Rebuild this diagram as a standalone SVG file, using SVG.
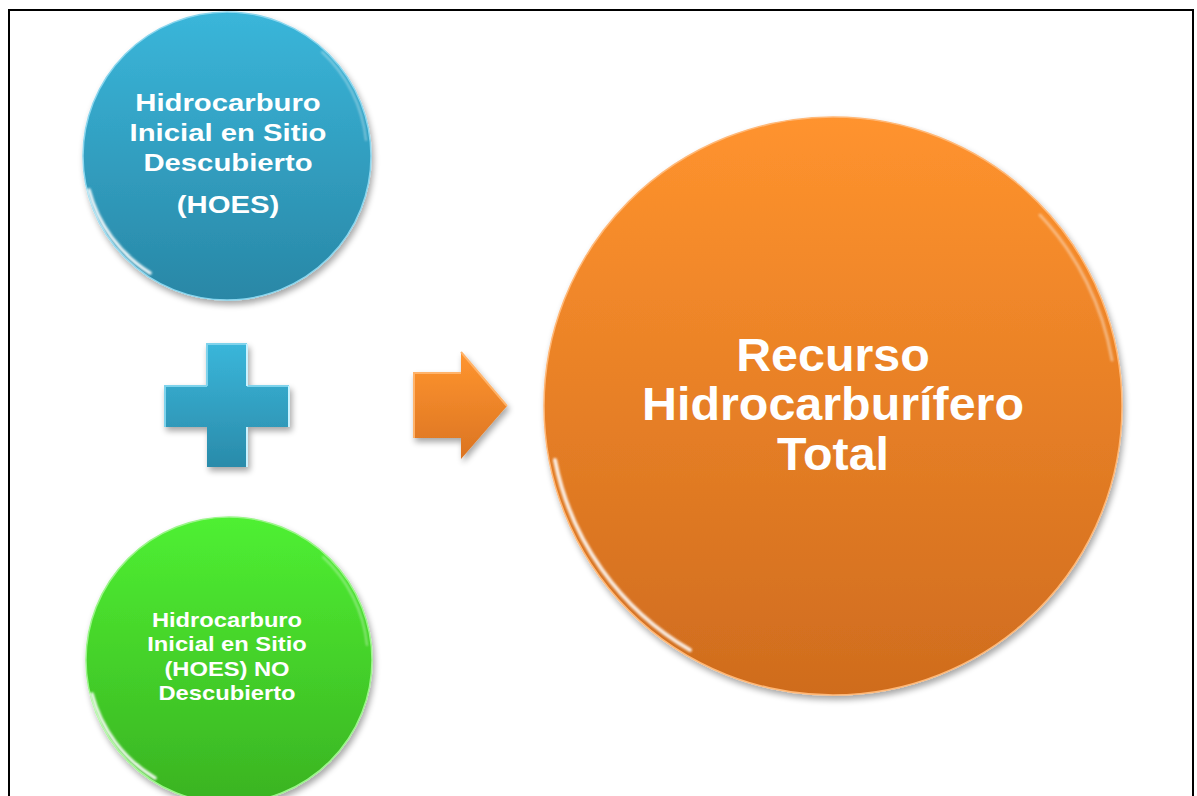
<svg xmlns="http://www.w3.org/2000/svg" width="1197" height="796" viewBox="0 0 1197 796">
  <style>
    .t { font-family: "Liberation Sans", Arial, sans-serif; font-weight: bold; fill: #ffffff; text-anchor: middle; }
    .hl { fill: none; stroke: #ffffff; stroke-linecap: round; }
  </style>
  <defs>
    <linearGradient id="gBlue" x1="0" y1="0" x2="0" y2="1">
      <stop offset="0" stop-color="#3AB6DA"/>
      <stop offset="1" stop-color="#2987A6"/>
    </linearGradient>
    <linearGradient id="gGreen" x1="0" y1="0" x2="0" y2="1">
      <stop offset="0" stop-color="#4FF032"/>
      <stop offset="1" stop-color="#3AB322"/>
    </linearGradient>
    <linearGradient id="gOrange" x1="0" y1="0" x2="0" y2="1">
      <stop offset="0" stop-color="#FF932E"/>
      <stop offset="1" stop-color="#CF6C1E"/>
    </linearGradient>
    <linearGradient id="gPlus" x1="0" y1="0" x2="0" y2="1">
      <stop offset="0" stop-color="#3AB6DA"/>
      <stop offset="1" stop-color="#2A8BAA"/>
    </linearGradient>
    <linearGradient id="gArrow" x1="0" y1="0" x2="0" y2="1">
      <stop offset="0" stop-color="#FF952F"/>
      <stop offset="1" stop-color="#DB7422"/>
    </linearGradient>
    <filter id="shadow" x="-10%" y="-10%" width="125%" height="125%">
      <feGaussianBlur in="SourceAlpha" stdDeviation="3"/>
      <feOffset dx="2" dy="4" result="b"/>
      <feComponentTransfer><feFuncA type="linear" slope="0.35"/></feComponentTransfer>
      <feMerge><feMergeNode/><feMergeNode in="SourceGraphic"/></feMerge>
    </filter>
    <filter id="soft" x="-20%" y="-20%" width="140%" height="140%">
      <feGaussianBlur stdDeviation="0.8"/>
    </filter>
  </defs>

  <rect x="9" y="10" width="1184" height="800" fill="#ffffff" stroke="#000000" stroke-width="2"/>

  <g id="node-hoes">
    <circle cx="227" cy="156" r="144" fill="url(#gBlue)" stroke="#8AD6EE" stroke-width="1.5" filter="url(#shadow)"/>
    <path class="hl" d="M 89 190 A 140 140 0 0 0 150 273" stroke-width="3.5" opacity="0.9" filter="url(#soft)"/>
    <path class="hl" d="M 322 52 A 140 140 0 0 1 366 140" stroke-width="2" opacity="0.4" filter="url(#soft)"/>
    <text class="t" font-size="24" transform="translate(228 0) scale(1.22 1) translate(-228 0)"><tspan x="228" y="111">Hidrocarburo</tspan><tspan x="228" y="141">Inicial en Sitio</tspan><tspan x="228" y="171">Descubierto</tspan><tspan x="228" y="213">(HOES)</tspan></text>
  </g>

  <g id="node-hoes-no">
    <circle cx="229" cy="660" r="143" fill="url(#gGreen)" stroke="#9BF58A" stroke-width="1.5" filter="url(#shadow)"/>
    <path class="hl" d="M 92 694 A 139 139 0 0 0 155 778" stroke-width="3.5" opacity="0.9" filter="url(#soft)"/>
    <path class="hl" d="M 323 557 A 139 139 0 0 1 367 645" stroke-width="2" opacity="0.4" filter="url(#soft)"/>
    <text class="t" font-size="21" transform="translate(227 0) scale(1.13 1) translate(-227 0)"><tspan x="227" y="627">Hidrocarburo</tspan><tspan x="227" y="651">Inicial en Sitio</tspan><tspan x="227" y="676">(HOES) NO</tspan><tspan x="227" y="700">Descubierto</tspan></text>
  </g>

  <g id="node-total">
    <circle cx="833" cy="406" r="289" fill="url(#gOrange)" stroke="#FFB877" stroke-width="1.5" filter="url(#shadow)"/>
    <path class="hl" d="M 555 460 A 282 282 0 0 0 690 650" stroke-width="4" opacity="0.85" filter="url(#soft)"/>
    <path class="hl" d="M 1040 215 A 282 282 0 0 1 1112 360" stroke-width="3" opacity="0.4" filter="url(#soft)"/>
    <text class="t" font-size="47" transform="translate(833 0) scale(1.03 1) translate(-833 0)"><tspan x="833" y="371">Recurso</tspan><tspan x="833" y="420">Hidrocarburífero</tspan><tspan x="833" y="470">Total</tspan></text>
  </g>

  <g id="connectors">
    <g id="plus" filter="url(#shadow)">
      <polygon points="207,344 247,344 247,386 289,386 289,427 247,427 247,467 207,467 207,427 165,427 165,386 207,386" fill="url(#gPlus)"/>
      <polyline points="207,386 207,344 247,344" fill="none" stroke="#7FD3EC" stroke-width="2"/>
      <polyline points="165,427 165,386 207,386" fill="none" stroke="#7FD3EC" stroke-width="2"/>
      <polyline points="247,386 289,386" fill="none" stroke="#7FD3EC" stroke-width="2"/>
      <polyline points="289,386 289,427" fill="none" stroke="#C9F2FF" stroke-width="2"/>
      <polyline points="247,344 247,386" fill="none" stroke="#C9F2FF" stroke-width="2"/>
      <polyline points="247,427 247,467" fill="none" stroke="#C9F2FF" stroke-width="2"/>
    </g>
    <g id="arrow" filter="url(#shadow)">
      <polygon points="414,373 461,373 461,352 507,406 461,459 461,438 414,438" fill="url(#gArrow)"/>
      <polyline points="414,438 414,373 461,373" fill="none" stroke="#FFB36A" stroke-width="2"/>
      <polyline points="461,352 507,406" fill="none" stroke="#FFB36A" stroke-width="2"/>
    </g>
  </g>
</svg>
